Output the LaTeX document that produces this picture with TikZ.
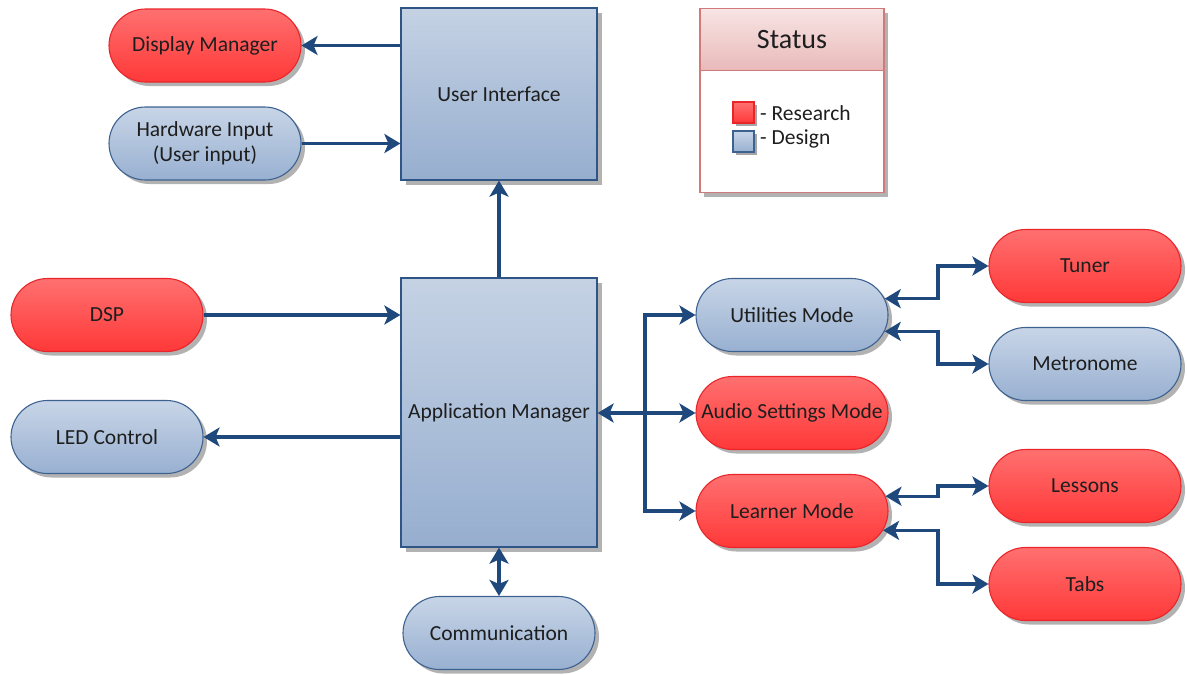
\documentclass[tikz,border=0pt]{standalone}
\usepackage{fontspec}
\setmainfont{Carlito}
\usetikzlibrary{shapes.misc,shadows,arrows.meta,calc}

\definecolor{linkblue}{HTML}{1F497D}
\definecolor{textdark}{HTML}{1E1E1E}
\definecolor{redtop}{HTML}{FF7070}
\definecolor{redbot}{HTML}{FF3838}
\definecolor{redline}{HTML}{E8262A}
\definecolor{bluetop}{HTML}{C8D5E7}
\definecolor{bluebot}{HTML}{98B0D1}
\definecolor{blueline}{HTML}{3D6290}
\definecolor{boxtop}{HTML}{C5D2E4}
\definecolor{boxbot}{HTML}{96AECF}
\definecolor{boxline}{HTML}{2E5585}
\definecolor{statusline}{HTML}{D07A7A}
\definecolor{statustop}{HTML}{F8E4E4}
\definecolor{statusbot}{HTML}{E8BAB9}

\tikzset{
  softshadow/.style={drop shadow={shadow xshift=4pt, shadow yshift=-4pt, fill=black, opacity=0.3}},
  pill/.style={rounded rectangle, minimum width=196pt, minimum height=73pt,
    inner sep=2pt, line width=1.1pt, text=textdark, align=center, softshadow},
  research/.style={pill, draw=redline, top color=redtop, bottom color=redbot},
  design/.style={pill, draw=blueline, top color=bluetop, bottom color=bluebot},
  block/.style={rectangle, draw=boxline, line width=1.2pt, top color=boxtop,
    bottom color=boxbot, minimum width=196pt, text=textdark,
    drop shadow={shadow xshift=5pt, shadow yshift=-5pt, fill=black, opacity=0.3}},
  tip/.tip={Stealth[length=16pt, width=19pt, inset=4pt]},
  link/.style={draw=linkblue, line width=3.2pt, -tip},
  twoway/.style={draw=linkblue, line width=3.2pt, tip-tip},
  swatch/.style={rectangle, minimum size=21pt, inner sep=0pt, line width=1.1pt,
    drop shadow={shadow xshift=3pt, shadow yshift=-3pt, fill=black, opacity=0.35}}
}

\begin{document}
\begin{tikzpicture}[x=1pt, y=-1pt, font=\fontsize{21.5}{25}\selectfont]
\useasboundingbox (0,0) rectangle (1187,675);

% main blocks
\node[block, minimum height=172pt] (ui) at (499,94) {User Interface};
\node[block, minimum height=269pt] (am) at (499,412.5) {Application Manager};

% left side
\node[research] (dm) at (205,45.5) {Display Manager};
\node[design] (hw) at (205,143.5) {Hardware Input\\(User input)};
\node[research] (dsp) at (107,315) {DSP};
\node[design] (led) at (107,437) {LED Control};
\node[design] (comm) at (499,633) {Communication};

% modes
\node[design] (util) at (792,315) {Utilities Mode};
\node[research] (audio) at (792,413) {Audio Settings Mode};
\node[research] (learn) at (792,511) {Learner Mode};

% features
\node[research] (tuner) at (1085,266) {Tuner};
\node[design] (metro) at (1085,364) {Metronome};
\node[research] (lessons) at (1085,486) {Lessons};
\node[research] (tabs) at (1085,584) {Tabs};

% status legend
\node[rectangle, draw=statusline, line width=1.1pt, fill=white,
      minimum width=184pt, minimum height=184pt, softshadow] (status) at (792,100.5) {};
\node[rectangle, draw=statusline, line width=1.1pt, top color=statustop,
      bottom color=statusbot, minimum width=184pt, minimum height=62pt,
      font=\fontsize{28}{32}\selectfont, text=textdark] (statushead) at (792,39.5) {Status};
\node[swatch, draw=redline, top color=redtop, bottom color=redbot] (swr) at (743.5,112.5) {};
\node[swatch, draw=blueline, top color=bluetop, bottom color=bluebot] (swd) at (743.5,141.5) {};
\node[anchor=west, inner sep=0pt, text=textdark] (lr) at (760,113) {- Research};
\node[anchor=west, inner sep=0pt, text=textdark] (ld) at (760,139) {- Design};

% connectors
\draw[link] (ui.west |- dm) -- (dm.east);
\draw[link] (hw.east) -- (ui.west |- hw);
\draw[link] (am.north) -- (ui.south);
\draw[link] (dsp.east) -- (am.west |- dsp);
\draw[link] (am.west |- led) -- (led.east);
\draw[twoway] (am.south) -- (comm.north);

\coordinate (split) at (645,413);
\draw[twoway] (am.east |- audio) -- (audio.west);
\draw[link] (split) |- (util.west);
\draw[link] (split) |- (learn.west);

\coordinate (rj) at (938,0);
\draw[twoway] (util.10) -- (util.10 -| rj) |- (tuner.west);
\draw[twoway] (util.-10) -- (util.-10 -| rj) |- (metro.west);
\draw[twoway] (learn.9) -- (learn.9 -| rj) |- (lessons.west);
\draw[twoway] (learn.-12) -- (learn.-12 -| rj) |- (tabs.west);
\end{tikzpicture}
\end{document}
